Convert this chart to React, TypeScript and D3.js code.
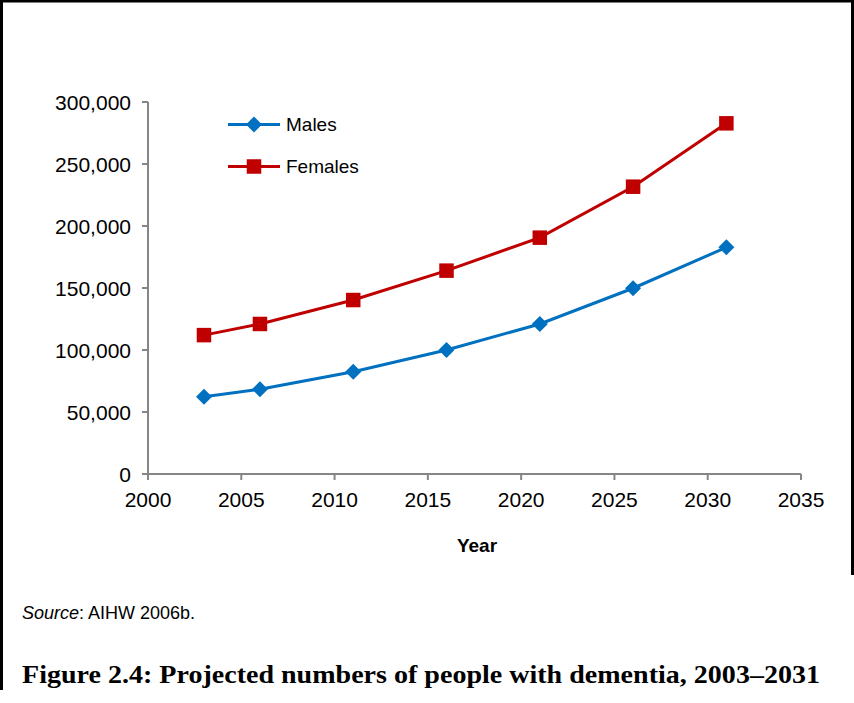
import React from "react";
import * as d3 from "d3";

const years = [2003, 2006, 2011, 2016, 2021, 2026, 2031];
const males = [62300, 68300, 82500, 100000, 121000, 149800, 182800];
const females = [112000, 121000, 140300, 164000, 190600, 231700, 282800];
const xTicks = [2000, 2005, 2010, 2015, 2020, 2025, 2030, 2035];
const yTicks = [0, 50000, 100000, 150000, 200000, 250000, 300000];
const seriesNames = ["Males", "Females"];

const W = 854;
const H = 703;
const BLUE = "#0070C0";
const RED = "#C00000";
const AXIS = "#868686";
const SANS = "'Liberation Sans', Arial, sans-serif";

export default function App() {
  const x = d3.scaleLinear().domain([2000, 2035]).range([148, 801]);
  const y = d3.scaleLinear().domain([0, 300000]).range([474, 102]);
  const fmt = d3.format(",");
  const line = d3
    .line<[number, number]>()
    .x((d) => x(d[0]))
    .y((d) => y(d[1]));
  const mPts = years.map((yr, i) => [yr, males[i]] as [number, number]);
  const fPts = years.map((yr, i) => [yr, females[i]] as [number, number]);
  const diamond = (cx: number, cy: number, r: number) =>
    `M${cx},${cy - r}L${cx + r},${cy}L${cx},${cy + r}L${cx - r},${cy}Z`;
  const sq = 14.5;

  return (
    <svg
      width={W}
      height={H}
      style={{ position: "absolute", left: 0, top: 0, background: "#fff" }}
    >
      <rect x={0} y={0} width={W} height={H} fill="#fff" />
      {/* frame */}
      <line x1={0} y1={1} x2={W} y2={1} stroke="#000" strokeWidth={3} />
      <line x1={1.5} y1={0} x2={1.5} y2={690} stroke="#000" strokeWidth={3} />
      <line x1={852.5} y1={0} x2={852.5} y2={575} stroke="#000" strokeWidth={3} />

      {/* y axis */}
      <line x1={x(2000)} y1={y(0)} x2={x(2000)} y2={y(300000)} stroke={AXIS} strokeWidth={2} />
      {yTicks.map((t) => (
        <g key={"y" + t}>
          <line x1={x(2000) - 6} x2={x(2000)} y1={y(t)} y2={y(t)} stroke={AXIS} strokeWidth={2} />
          <text
            x={131}
            y={y(t)}
            dy="0.36em"
            textAnchor="end"
            fontFamily={SANS}
            fontSize={21}
            fill="#000"
          >
            {fmt(t)}
          </text>
        </g>
      ))}
      {/* x axis */}
      <line x1={x(2000)} y1={y(0)} x2={x(2035)} y2={y(0)} stroke={AXIS} strokeWidth={2} />
      {xTicks.map((t) => (
        <g key={"x" + t}>
          <line x1={x(t)} x2={x(t)} y1={y(0)} y2={y(0) + 6} stroke={AXIS} strokeWidth={2} />
          <text
            x={x(t)}
            y={507}
            textAnchor="middle"
            fontFamily={SANS}
            fontSize={21}
            fill="#000"
          >
            {t}
          </text>
        </g>
      ))}
      <text x={477} y={552} textAnchor="middle" fontFamily={SANS} fontSize={19} fontWeight="bold">
        Year
      </text>

      {/* series */}
      <path d={line(mPts) || ""} fill="none" stroke={BLUE} strokeWidth={3} />
      {mPts.map((p, i) => (
        <path key={"m" + i} d={diamond(x(p[0]), y(p[1]), 8)} fill={BLUE} />
      ))}
      <path d={line(fPts) || ""} fill="none" stroke={RED} strokeWidth={3} />
      {fPts.map((p, i) => (
        <rect
          key={"f" + i}
          x={x(p[0]) - sq / 2}
          y={y(p[1]) - sq / 2}
          width={sq}
          height={sq}
          fill={RED}
        />
      ))}

      {/* legend */}
      {seriesNames.map((name, i) => {
        const ly = 124.5 + i * 42;
        const c = i === 0 ? BLUE : RED;
        return (
          <g key={name}>
            <line x1={228} x2={280} y1={ly} y2={ly} stroke={c} strokeWidth={3} />
            {i === 0 ? (
              <path d={diamond(254, ly, 8)} fill={c} />
            ) : (
              <rect x={254 - sq / 2} y={ly - sq / 2} width={sq} height={sq} fill={c} />
            )}
            <text x={286} y={ly} dy="0.36em" fontFamily={SANS} fontSize={19} fill="#000">
              {name}
            </text>
          </g>
        );
      })}

      {/* source & caption */}
      <text x={22} y={619} fontFamily={SANS} fontSize={18} fill="#000">
        <tspan fontStyle="italic">Source</tspan>: AIHW 2006b.
      </text>
      <text
        x={22}
        y={683}
        fontFamily="'Liberation Serif', 'DejaVu Serif', serif"
        fontSize={25}
        fontWeight="bold"
        fill="#000"
        textLength={798}
        lengthAdjust="spacingAndGlyphs"
      >
        Figure 2.4: Projected numbers of people with dementia, 2003–2031
      </text>
    </svg>
  );
}
